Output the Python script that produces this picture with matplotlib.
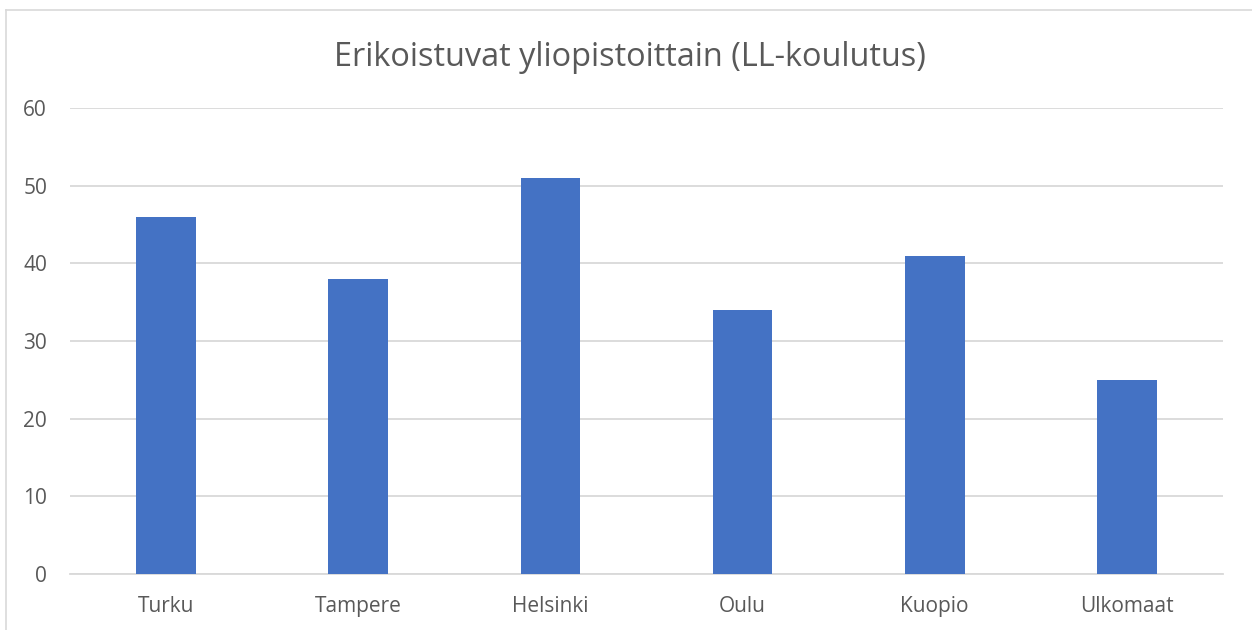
import matplotlib
matplotlib.use('Agg')
import matplotlib.pyplot as plt
import numpy as np

categories = ['Turku', 'Tampere', 'Helsinki', 'Oulu', 'Kuopio', 'Ulkomaat']
values = [46, 38, 51, 34, 41, 25]
yticks = [0, 10, 20, 30, 40, 50, 60]

TEXT = '#595959'
GRID = '#d9d9d9'
BAR = '#4472c4'

plt.rcParams['font.family'] = ['Open Sans', 'DejaVu Sans']

fig = plt.figure(figsize=(12.52, 6.30), dpi=100)
ax = fig.add_axes([70 / 1252, 1 - 574 / 630, (1223 - 70) / 1252, (574 - 108) / 630])

x = np.arange(len(categories))
ax.bar(x, values, width=0.31, color=BAR, zorder=3)

ax.set_xlim(-0.5, len(categories) - 0.5)
ax.set_ylim(0, 60)
ax.set_yticks(yticks)
ax.set_xticks(x)
ax.set_xticklabels(categories)
ax.yaxis.grid(True, color=GRID, linewidth=1.3)
ax.tick_params(axis='both', length=0, labelsize=15, labelcolor=TEXT)
ax.tick_params(axis='y', pad=16.5)
ax.tick_params(axis='x', pad=16)
for side in ['top', 'right', 'left']:
    ax.spines[side].set_visible(False)
ax.spines['bottom'].set_color(GRID)
ax.spines['bottom'].set_linewidth(1.3)

fig.text(630 / 1252, 1 - 58 / 630, 'Erikoistuvat yliopistoittain (LL-koulutus)',
         ha='center', va='center', fontsize=23.4, color=TEXT)

# chart frame, partly cropped in the original
fig.add_artist(plt.Line2D([6 / 1252, 1], [1 - 10 / 630] * 2, color=GRID, linewidth=1.2))
fig.add_artist(plt.Line2D([6 / 1252] * 2, [0, 1 - 10 / 630], color=GRID, linewidth=1.2))

fig.savefig('out.png', dpi=100)
